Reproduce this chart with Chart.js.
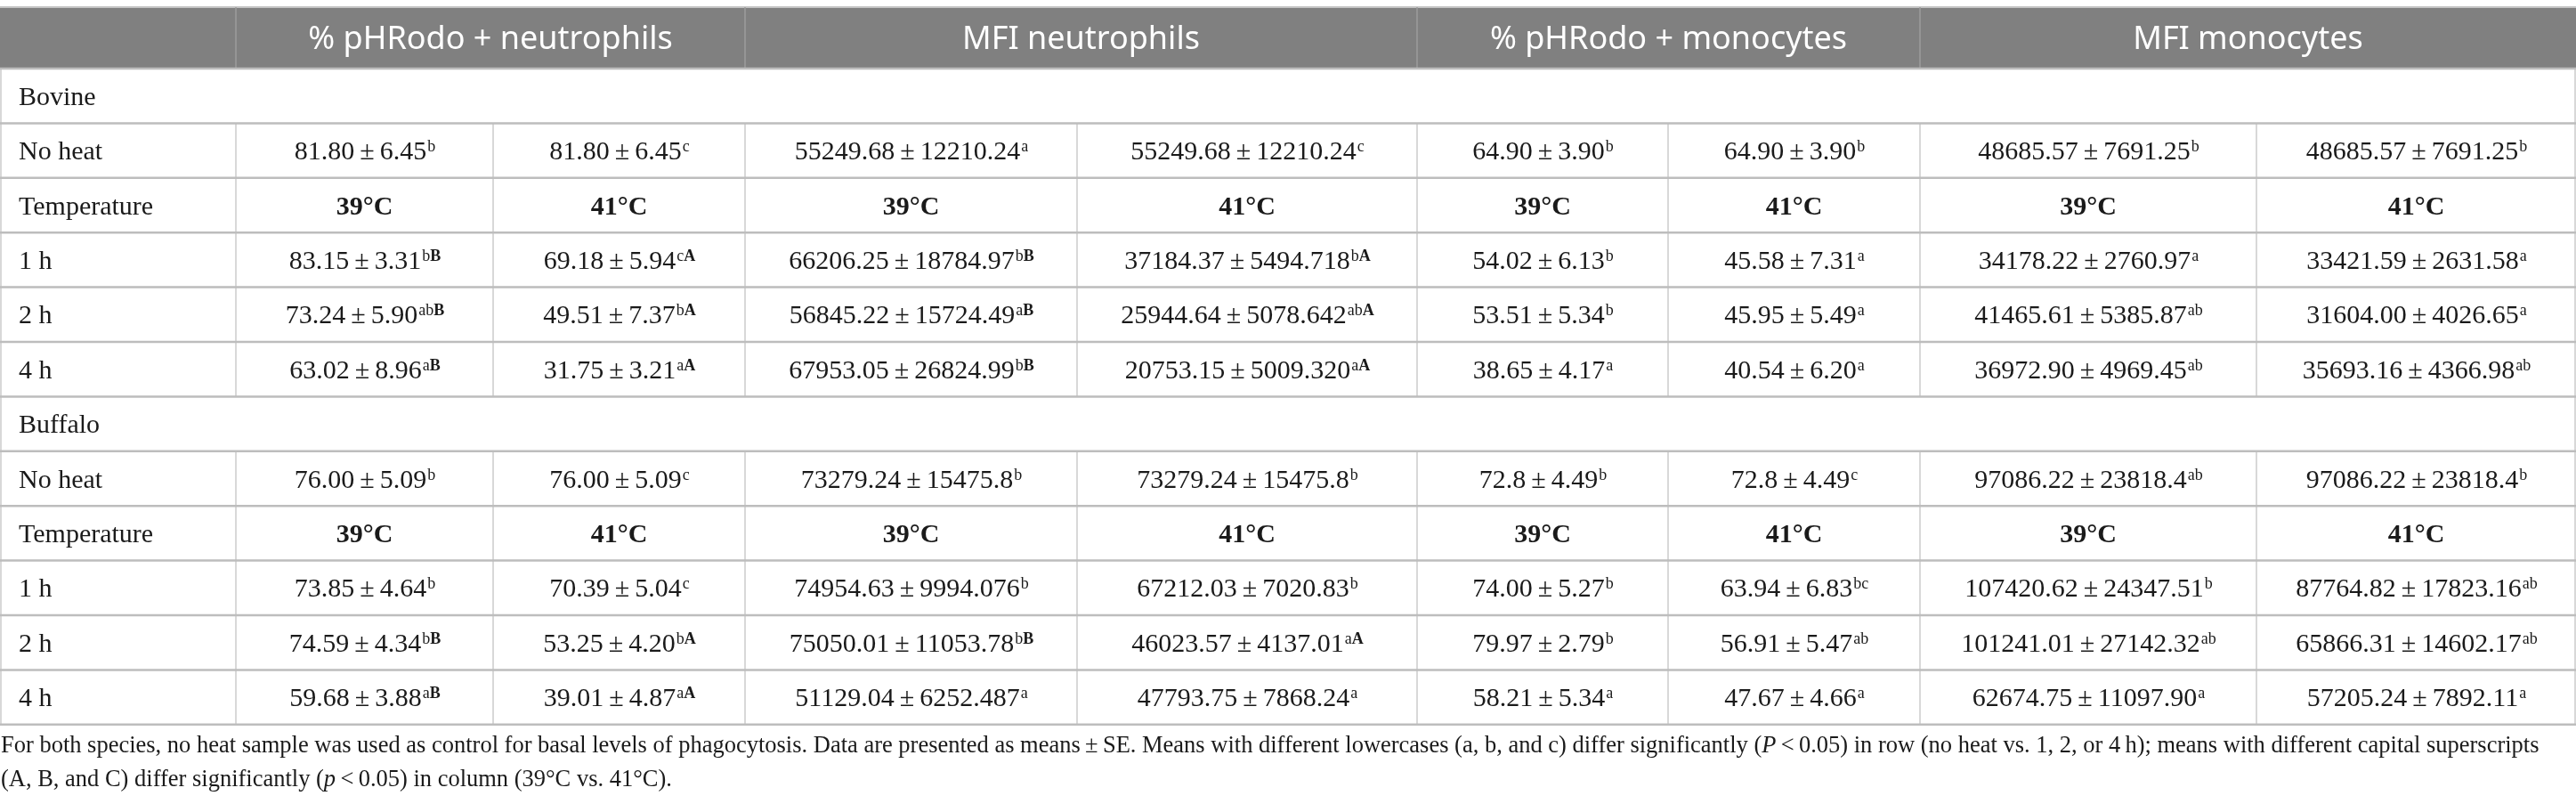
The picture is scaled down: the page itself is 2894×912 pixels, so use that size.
<!DOCTYPE html>
<html>
<head>
<meta charset="utf-8">
<script src="https://cdn.jsdelivr.net/npm/chart.js@4.4.1/dist/chart.umd.min.js"></script>
<style>
  html, body { margin: 0; padding: 0; background: #fff; }
  canvas { display: block; }
</style>
</head>
<body>
<canvas id="tbl" width="2894" height="912"></canvas>
<script>
// column groups, sub columns, row labels
const groups = ["% pHRodo + neutrophils", "MFI neutrophils", "% pHRodo + monocytes", "MFI monocytes"];
const temps = ["39°C", "41°C"];
const species = ["Bovine", "Buffalo"];
const rowLabels = ["No heat", "Temperature", "1 h", "2 h", "4 h"];

// Bovine
const bovineNoHeatMean = ["81.80", "81.80", "55249.68", "55249.68", "64.90", "64.90", "48685.57", "48685.57"];
const bovineNoHeatSE   = ["6.45", "6.45", "12210.24", "12210.24", "3.90", "3.90", "7691.25", "7691.25"];
const bovineNoHeatSup  = ["b", "c", "a", "c", "b", "b", "b", "b"];
const bovine1hMean = ["83.15", "69.18", "66206.25", "37184.37", "54.02", "45.58", "34178.22", "33421.59"];
const bovine1hSE   = ["3.31", "5.94", "18784.97", "5494.718", "6.13", "7.31", "2760.97", "2631.58"];
const bovine1hSup  = ["bB", "cA", "bB", "bA", "b", "a", "a", "a"];
const bovine2hMean = ["73.24", "49.51", "56845.22", "25944.64", "53.51", "45.95", "41465.61", "31604.00"];
const bovine2hSE   = ["5.90", "7.37", "15724.49", "5078.642", "5.34", "5.49", "5385.87", "4026.65"];
const bovine2hSup  = ["abB", "bA", "aB", "abA", "b", "a", "ab", "a"];
const bovine4hMean = ["63.02", "31.75", "67953.05", "20753.15", "38.65", "40.54", "36972.90", "35693.16"];
const bovine4hSE   = ["8.96", "3.21", "26824.99", "5009.320", "4.17", "6.20", "4969.45", "4366.98"];
const bovine4hSup  = ["aB", "aA", "bB", "aA", "a", "a", "ab", "ab"];

// Buffalo
const buffaloNoHeatMean = ["76.00", "76.00", "73279.24", "73279.24", "72.8", "72.8", "97086.22", "97086.22"];
const buffaloNoHeatSE   = ["5.09", "5.09", "15475.8", "15475.8", "4.49", "4.49", "23818.4", "23818.4"];
const buffaloNoHeatSup  = ["b", "c", "b", "b", "b", "c", "ab", "b"];
const buffalo1hMean = ["73.85", "70.39", "74954.63", "67212.03", "74.00", "63.94", "107420.62", "87764.82"];
const buffalo1hSE   = ["4.64", "5.04", "9994.076", "7020.83", "5.27", "6.83", "24347.51", "17823.16"];
const buffalo1hSup  = ["b", "c", "b", "b", "b", "bc", "b", "ab"];
const buffalo2hMean = ["74.59", "53.25", "75050.01", "46023.57", "79.97", "56.91", "101241.01", "65866.31"];
const buffalo2hSE   = ["4.34", "4.20", "11053.78", "4137.01", "2.79", "5.47", "27142.32", "14602.17"];
const buffalo2hSup  = ["bB", "bA", "bB", "aA", "b", "ab", "ab", "ab"];
const buffalo4hMean = ["59.68", "39.01", "51129.04", "47793.75", "58.21", "47.67", "62674.75", "57205.24"];
const buffalo4hSE   = ["3.88", "4.87", "6252.487", "7868.24", "5.34", "4.66", "11097.90", "7892.11"];
const buffalo4hSup  = ["aB", "aA", "a", "a", "a", "a", "a", "a"];

const footLine1 = [
  ["For both species, no heat sample was used as control for basal levels of phagocytosis. Data are presented as means\u2009±\u2009SE. Means with different lowercases (a, b, and c) differ significantly (", false],
  ["P", true], ["\u2009<\u20090.05) in row (no heat vs. 1, 2, or 4\u2009h); means with different capital superscripts", false]
];
const footLine2 = [
  ["(A, B, and C) differ significantly (", false], ["p", true],
  ["\u2009<\u20090.05) in column (39°C vs. 41°C).", false]
];

// layout (pixel units of the x / y scales)
const W = 2894, H = 912;
const colEdges = [0, 265, 554, 837, 1210, 1592, 1874, 2157, 2535, 2894];
const headTop = 8, headBottom = 77, rowH = 61.4;
const serif = "'Liberation Serif', 'Times New Roman', serif";
const sans = "'Noto Sans', 'Open Sans', sans-serif";

// build the row list
const speciesData = [
  [[bovineNoHeatMean, bovineNoHeatSE, bovineNoHeatSup], [bovine1hMean, bovine1hSE, bovine1hSup],
   [bovine2hMean, bovine2hSE, bovine2hSup], [bovine4hMean, bovine4hSE, bovine4hSup]],
  [[buffaloNoHeatMean, buffaloNoHeatSE, buffaloNoHeatSup], [buffalo1hMean, buffalo1hSE, buffalo1hSup],
   [buffalo2hMean, buffalo2hSE, buffalo2hSup], [buffalo4hMean, buffalo4hSE, buffalo4hSup]]
];
const rows = [];
species.forEach((sp, s) => {
  rows.push({ kind: "species", label: sp });
  rows.push({ kind: "values", label: rowLabels[0], vals: speciesData[s][0] });
  rows.push({ kind: "temp", label: rowLabels[1] });
  for (let t = 0; t < 3; t++) rows.push({ kind: "values", label: rowLabels[t + 2], vals: speciesData[s][t + 1] });
});
const rowTop = (i) => headBottom + i * rowH;

// one point per cell, text kept on the point
const cells = [];
groups.forEach((g, k) => {
  cells.push({ x: (colEdges[1 + 2 * k] + colEdges[3 + 2 * k]) / 2, y: (headTop + headBottom) / 2, kind: "head", text: g });
});
rows.forEach((r, i) => {
  const yc = rowTop(i) + rowH / 2;
  cells.push({ x: colEdges[0] + 21, y: yc, kind: "label", text: r.label });
  for (let c = 0; c < 8; c++) {
    const xc = (colEdges[c + 1] + colEdges[c + 2]) / 2;
    if (r.kind === "temp") cells.push({ x: xc, y: yc, kind: "temp", text: temps[c % 2] });
    if (r.kind === "values") cells.push({ x: xc, y: yc, kind: "val", mean: r.vals[0][c], se: r.vals[1][c], sup: r.vals[2][c] });
  }
});
const footY = [837, 875];

const tablePlugin = {
  id: "tablePlugin",
  beforeDatasetsDraw(chart) {
    const { ctx, scales: { x, y } } = chart;
    const px = (v) => x.getPixelForValue(v), py = (v) => y.getPixelForValue(v);
    ctx.save();
    // header band
    ctx.fillStyle = "#808080";
    ctx.fillRect(px(0), py(headTop), px(W) - px(0), py(headBottom) - py(headTop));
    ctx.strokeStyle = "#c4c4c4";
    ctx.lineWidth = 2;
    ctx.beginPath();
    ctx.moveTo(px(0), py(headTop)); ctx.lineTo(px(W), py(headTop));
    ctx.stroke();
    // header separators
    ctx.strokeStyle = "#9c9c9c";
    ctx.lineWidth = 1.5;
    [1, 3, 5, 7].forEach((k) => {
      ctx.beginPath();
      ctx.moveTo(px(colEdges[k]), py(headTop)); ctx.lineTo(px(colEdges[k]), py(headBottom));
      ctx.stroke();
    });
    // verticals in body
    ctx.strokeStyle = "#cbcbcb";
    ctx.lineWidth = 1.5;
    rows.forEach((r, i) => {
      const edges = r.kind === "species" ? [0, W] : colEdges;
      edges.forEach((e) => {
        const xx = Math.min(Math.max(px(e), 1), px(W) - 1);
        ctx.beginPath();
        ctx.moveTo(xx, py(rowTop(i))); ctx.lineTo(xx, py(rowTop(i + 1)));
        ctx.stroke();
      });
    });
    // horizontals
    ctx.strokeStyle = "#bdbdbd";
    ctx.lineWidth = 2.5;
    for (let i = 0; i <= rows.length; i++) {
      ctx.beginPath();
      ctx.moveTo(px(0), py(rowTop(i))); ctx.lineTo(px(W), py(rowTop(i)));
      ctx.stroke();
    }
    ctx.restore();
  },
  afterDatasetsDraw(chart) {
    const { ctx, scales: { x, y } } = chart;
    const meta = chart.getDatasetMeta(0);
    ctx.save();
    ctx.textBaseline = "alphabetic";
    meta.data.forEach((pt, i) => {
      const d = chart.data.datasets[0].data[i];
      const cx = pt.x, cy = pt.y;
      if (d.kind === "head") {
        ctx.font = `36px ${sans}`;
        ctx.fillStyle = "#ffffff";
        ctx.textAlign = "center";
        ctx.fillText(d.text, cx, cy + 12);
      } else if (d.kind === "label") {
        ctx.font = `30px ${serif}`;
        ctx.fillStyle = "#1a1a1a";
        ctx.textAlign = "left";
        ctx.fillText(d.text, cx, cy + 10);
      } else if (d.kind === "temp") {
        ctx.font = `bold 30px ${serif}`;
        ctx.fillStyle = "#1a1a1a";
        ctx.textAlign = "center";
        ctx.fillText(d.text, cx, cy + 10);
      } else {
        const main = d.mean + "\u2009±\u2009" + d.se;
        const low = d.sup.replace(/[A-Z]/g, ""), cap = d.sup.replace(/[a-z]/g, "");
        ctx.textAlign = "left";
        ctx.font = `30px ${serif}`;
        const wm = ctx.measureText(main).width;
        ctx.font = `18px ${serif}`;
        const wl = ctx.measureText(low).width;
        ctx.font = `bold 18px ${serif}`;
        const wc = ctx.measureText(cap).width;
        let sx = cx - (wm + wl + wc) / 2;
        ctx.fillStyle = "#1a1a1a";
        ctx.font = `30px ${serif}`;
        ctx.fillText(main, sx, cy + 10);
        sx += wm + 1;
        ctx.font = `18px ${serif}`;
        ctx.fillText(low, sx, cy + 1);
        sx += wl;
        ctx.font = `bold 18px ${serif}`;
        ctx.fillText(cap, sx, cy + 1);
      }
    });
    // footnote
    const drawLine = (parts, yy, size) => {
      let sx = x.getPixelForValue(1);
      parts.forEach(([t, it]) => {
        ctx.font = `${it ? "italic " : ""}${size}px ${serif}`;
        ctx.fillText(t, sx, y.getPixelForValue(yy));
        sx += ctx.measureText(t).width;
      });
    };
    const measure = (parts, size) => parts.reduce((w, [t, it]) => {
      ctx.font = `${it ? "italic " : ""}${size}px ${serif}`;
      return w + ctx.measureText(t).width;
    }, 0);
    const fsize = 24 * 2853 / measure(footLine1, 24);
    ctx.fillStyle = "#1a1a1a";
    ctx.textAlign = "left";
    drawLine(footLine1, footY[0] + 8, fsize);
    drawLine(footLine2, footY[1] + 8, fsize);
    ctx.restore();
  }
};

new Chart(document.getElementById("tbl"), {
  type: "scatter",
  data: { datasets: [{ data: cells, pointRadius: 0, pointHoverRadius: 0 }] },
  options: {
    responsive: false,
    animation: false,
    devicePixelRatio: 1,
    layout: { padding: 0 },
    plugins: { legend: { display: false }, tooltip: { enabled: false } },
    scales: {
      x: { type: "linear", min: 0, max: W, display: false },
      y: { type: "linear", min: 0, max: H, reverse: true, display: false }
    }
  },
  plugins: [tablePlugin]
});
</script>
</body>
</html>
